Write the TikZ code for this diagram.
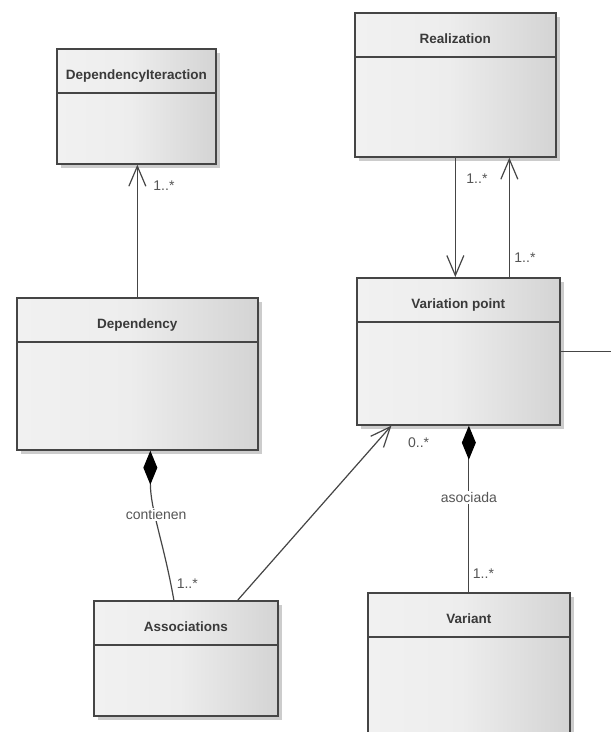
\documentclass[tikz,border=0pt]{standalone}
\usepackage{fontspec}
\setmainfont{Liberation Sans}
\usetikzlibrary{arrows.meta,shadows}
\newdimen\unitsize
\setlength{\unitsize}{1pt}
\definecolor{umlline}{HTML}{454545}
\definecolor{umltext}{HTML}{3A3A3A}
\definecolor{umllabel}{HTML}{555555}
\pgfdeclarehorizontalshading{classfill}{100bp}{color(0bp)=(gray!11); color(25bp)=(gray!11); color(48bp)=(gray!14); color(75bp)=(gray!34); color(100bp)=(gray!34)}
\newcommand{\umlclass}[6]{%
  \node[classbox, minimum width=#4\unitsize, minimum height=#5\unitsize] (#1) at (#2,#3) {};
  \draw[classsep] ([yshift=-45\unitsize]#1.north west) -- ([yshift=-45\unitsize]#1.north east);
  \node[classname] (#1-name) at ([yshift=-31\unitsize]#1.north) {#6};
}

\begin{document}
\begin{tikzpicture}[x=\unitsize,y=-\unitsize]
\tikzset{classbox/.style={anchor=north west, inner sep=0pt, draw=umlline, line width=1.7pt, shade, shading=classfill,
  drop shadow={shadow xshift=4pt, shadow yshift=-4pt, fill=black, opacity=0.2}}}%
\tikzset{classsep/.style={umlline, line width=1.7pt}}%
\tikzset{classname/.style={anchor=base, text=umltext, font=\fontsize{13.5}{16}\selectfont\bfseries}}%
\tikzset{assocline/.style={umlline, line width=1.2pt}}%
\tikzset{navhead/.style={-{Straight Barb[length=20pt,width=17pt]}}}%
\tikzset{comphead/.style={{Diamond[length=34pt,width=14pt,color=black,fill=black]}-}}%
\tikzset{lbl/.style={text=umllabel, font=\fontsize{14}{16}\selectfont, inner sep=1.5pt}}%
\clip (0,0) rectangle (611,732);
\fill[white] (0,0) rectangle (611,732);
\umlclass{depint}{56}{48}{159}{115}{DependencyIteraction}
\umlclass{dependency}{16}{297}{241}{152}{Dependency}
\umlclass{assoc}{93}{600}{184}{115}{Associations}
\umlclass{realization}{354}{12}{201}{144}{Realization}
\umlclass{varpoint}{356}{277}{203}{147}{Variation point}
\umlclass{variant}{367}{592}{202}{160}{Variant}
\coordinate (vpout) at (615,350);
\draw[assocline,navhead] (dependency.north) -- (dependency.north |- depint.south)
  node[lbl, pos=0.84, anchor=west, xshift=14pt] (depint-mult) {1..*};
\draw[assocline,navhead] (realization.south) -- (realization.south |- varpoint.north)
  node[lbl, pos=0.18, anchor=west, xshift=9pt] (real-mult) {1..*};
\draw[assocline,navhead] ([xshift=51pt]varpoint.north) -- ([xshift=51pt]varpoint.north |- realization.south)
  node[lbl, pos=0.16, anchor=west, xshift=3pt] (vp-mult) {1..*};
\draw[assocline] (varpoint.east) -- (varpoint.east -| vpout);
\draw[assocline,comphead] ([xshift=13pt]dependency.south) to[out=-90,in=100]
  node[lbl, fill=white, pos=0.42] (contienen) {contienen}
  node[lbl, pos=0.9, anchor=west, xshift=4pt] (assoc-mult) {1..*} ([xshift=-12pt]assoc.north);
\draw[assocline,comphead] (variant.north |- varpoint.south) -- (variant.north)
  node[lbl, fill=white, pos=0.43] (asociada) {asociada}
  node[lbl, pos=0.89, anchor=west, xshift=2pt] (variant-mult) {1..*};
\draw[assocline,navhead] ([xshift=52pt]assoc.north) -- ([xshift=-67pt]varpoint.south)
  node[lbl, pos=0.9, anchor=west, xshift=30pt] (vp-assoc-mult) {0..*};
\end{tikzpicture}
\end{document}
